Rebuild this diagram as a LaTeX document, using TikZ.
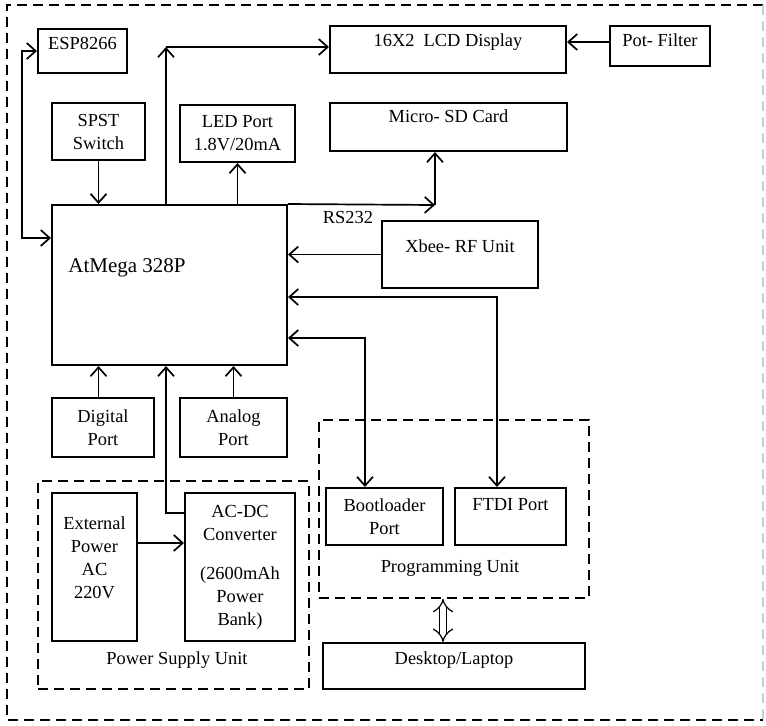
\documentclass[tikz,border=0pt]{standalone}
\usepackage{fontspec}
\setmainfont{Liberation Serif}
\usetikzlibrary{arrows.meta,positioning}
\tikzset{>={Straight Barb[length=4.5pt,width=8pt]},blk/.style={draw,line width=1pt,align=center,inner sep=2pt,font=\fontsize{9.2}{11.5}\selectfont},grp/.style={draw,dash pattern=on 5pt off 3pt,line width=.8pt,inner sep=0pt},arr/.style={->,line width=.85pt},lbl/.style={font=\fontsize{9.2}{11.5}\selectfont,inner sep=1pt,align=center}}

\begin{document}
\begin{tikzpicture}[x=.5pt,y=-.5pt]
\useasboundingbox (0,0) rectangle (766,725);
% outer frame
\draw[grp] (763,5) -- (7,5) -- (7,720) -- (763,720);
\draw[grp,black!20] (763,5) -- (763,720);
% units
\node[grp,minimum width=135.5pt,minimum height=104pt] (psu) at (173.5,585) {};
\node[grp,minimum width=135pt,minimum height=89pt] (prog) at (454,509) {};
\node[lbl] (psulbl) at (177,660) {Power Supply Unit};
\node[lbl] (proglbl) at (450,568) {Programming Unit};
% blocks
\node[blk,minimum width=44.5pt,minimum height=22pt,text height=6.5pt,text depth=8pt] (esp) at (82.5,51) {ESP8266};
\node[blk,minimum width=118pt,minimum height=23.5pt,text height=6.5pt,text depth=9.5pt] (lcd) at (448,49.5) {16X2~ LCD Display};
\node[blk,minimum width=50pt,minimum height=20pt,text height=6.5pt,text depth=6pt] (pot) at (660,46) {Pot- Filter};
\node[blk,minimum width=46.5pt,minimum height=28.5pt] (spst) at (98.5,131.5) {SPST\\Switch};
\node[blk,minimum width=57.5pt,minimum height=28.5pt] (led) at (237.5,133.5) {LED Port\\1.8V/20mA};
\node[blk,minimum width=118.5pt,minimum height=24pt,text height=6.5pt,text depth=11pt] (sd) at (448.5,127) {Micro- SD Card};
\node[blk,minimum width=117.5pt,minimum height=80pt] (mcu) at (169.5,285) {};
\node[lbl,font=\fontsize{10.5}{12}\selectfont] (mcutxt) at (127,268) {AtMega 328P};
\node[blk,minimum width=78pt,minimum height=33.5pt,text height=6.5pt,text depth=9pt] (xbee) at (460,254.5) {Xbee- RF Unit};
\node[blk,minimum width=51pt,minimum height=29.5pt] (dig) at (103,427.5) {Digital\\Port};
\node[blk,minimum width=53.5pt,minimum height=29.5pt] (ana) at (233.5,427.5) {Analog\\Port};
\node[blk,minimum width=42.5pt,minimum height=74pt] (ext) at (94.5,567) {};
\node[lbl] (exttxt) at (94.5,558) {External\\Power\\AC\\220V};
\node[blk,minimum width=55pt,minimum height=74pt] (acdc) at (240,567) {AC-DC\\Converter\\[8pt](2600mAh\\Power\\Bank)};
\node[blk,minimum width=58.5pt,minimum height=28.5pt] (boot) at (384.5,516.5) {Bootloader\\Port};
\node[blk,minimum width=55.5pt,minimum height=28.5pt,text height=6.5pt,text depth=13pt] (ftdi) at (510.5,516.5) {FTDI Port};
\node[blk,minimum width=131pt,minimum height=23pt,text height=6.5pt,text depth=8pt] (pc) at (454,666) {Desktop/Laptop};
% connectors
\draw[arr,<->] (esp.west) -| (22,238) -- (mcu.west |- 0,238);
\coordinate (lcdturn) at (166,47);
\draw[arr] (mcu.north -| lcdturn) -- (lcdturn);
\draw[arr] (lcdturn) -- (lcd.west |- lcdturn);
\draw[arr] (pot.west |- 0,42) -- (lcd.east |- 0,42);
\draw[arr] (spst.south) -- (mcu.north -| spst.south);
\draw[arr] (mcu.north -| led.south) -- (led.south);
\coordinate (sdturn) at (435,205);
\draw[arr] (mcu.north east) -- (sdturn);
\draw[arr] (sdturn) -- (sd.south -| sdturn);
\node[lbl] (rs) at (348,217) {RS232};
\draw[arr] (xbee.west) -- (mcu.east |- xbee.west);
\draw[arr,<->] (mcu.east |- 0,297) -| (ftdi.north -| 497,0);
\draw[arr,<->] (mcu.east |- 0,338) -| (boot.north -| 365,0);
\draw[arr] (dig.north -| spst.south) -- (mcu.south -| spst.south);
\draw[arr] (ana.north) -- (mcu.south -| ana.north);
\draw[arr] (acdc.west |- 0,513) -| (mcu.south -| lcdturn);
\draw[arr] (ext.east |- 0,543) -- (acdc.west |- 0,543);
\draw[double,double distance=3pt,line width=.6pt,{Implies}-{Implies}] ([xshift=-5.5pt]prog.south) -- ([xshift=-5.5pt]pc.north);
\end{tikzpicture}
\end{document}
